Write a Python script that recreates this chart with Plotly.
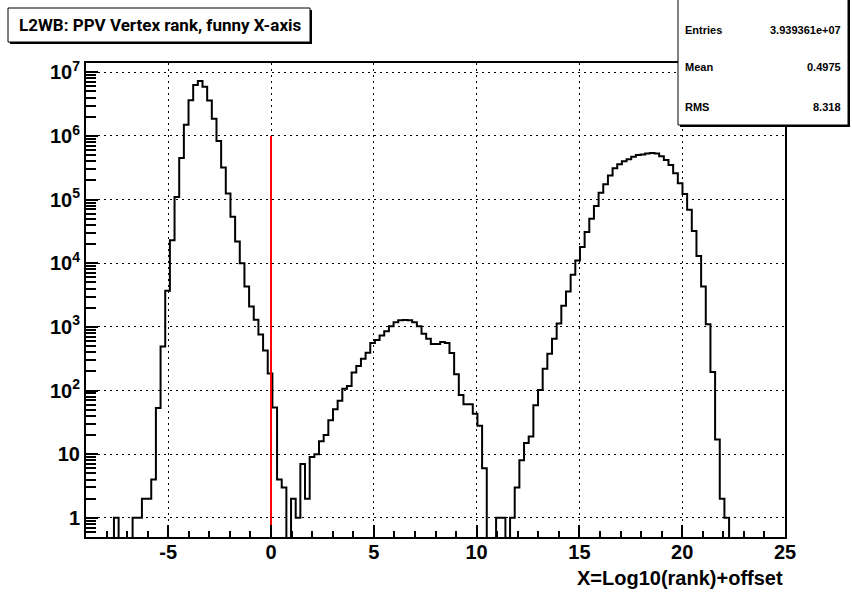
import numpy as np
import plotly.graph_objects as go

# ---------------------------------------------------------------------------
# histogram: 150 bins from -9 to 25, counts
x_lo, x_hi, n_bins = -9.0, 25.0, 150

counts = [
    0, 0, 0, 0, 0, 0, 1, 0, 0, 0,                                   # 0-9
    1, 1, 2, 2, 4, 53, 490, 3700, 23000, 110000,                    # 10-19
    450000, 1500000, 3650000, 6300000, 7300000, 5950000, 3600000,   # 20-26
    1860000, 830000, 320000,                                        # 27-29
    125000, 54000, 22000, 10000, 4300, 2100, 1300, 760, 425, 185,   # 30-39
    54, 4, 3, 0, 2, 1, 7, 2, 9, 10,                                 # 40-49
    16, 20, 34, 51, 69, 107, 118, 192, 243, 316,                    # 50-59
    392, 560, 620, 733, 855, 1020, 1180, 1270, 1280, 1270,          # 60-69
    1180, 1020, 780, 650, 540, 540, 580, 560, 390, 180,             # 70-79
    85, 61, 61, 43, 28, 6, 0, 0, 1, 1,                              # 80-89
    0, 1, 3, 8, 15, 19, 59, 102, 220, 378,                          # 90-99
    650, 1130, 2150, 3600, 6600, 11000, 18000, 31000, 50000, 79000, # 100-109
    128000, 175000, 240000, 310000, 360000, 400000, 430000, 470000, 500000, 510000,  # 110-119
    530000, 540000, 530000, 480000, 420000, 350000, 260000, 180000, 123000, 69000,   # 120-129
    32000, 13000, 4300, 1100, 195, 17, 2, 1, 0, 0,                  # 130-139
    0, 0, 0, 0, 0, 0, 0, 0, 0, 0,                                   # 140-149
]

x_major_ticks = [-5, 0, 5, 10, 15, 20, 25]
y_major_ticks = [1, 10, 1e2, 1e3, 1e4, 1e5, 1e6, 1e7]
y_tick_text = ["1", "10", "10<sup>2</sup>", "10<sup>3</sup>", "10<sup>4</sup>",
               "10<sup>5</sup>", "10<sup>6</sup>", "10<sup>7</sup>"]
y_min, y_max = 0.5, 1.4e7

red_line_x = 0
red_line_top = 1e6

title_text = "L2WB: PPV Vertex rank, funny X-axis"
xaxis_title = "X=Log10(rank)+offset"
stat_names = ["Entries", "Mean", "RMS"]
stat_values = ["3.939361e+07", "0.4975", "8.318"]

# ---------------------------------------------------------------------------
W, H = 852, 597
L, R, T, B = 86, 785, 63, 537   # plot frame in pixels


def pp(x, y):
    """pixel -> paper coordinates"""
    return (x - L) / (R - L), (B - y) / (B - T)


FONT = "Liberation Sans, Arial, sans-serif"
TITLE_FONT = "Roboto, Liberation Sans, Arial, sans-serif"

edges = np.linspace(x_lo, x_hi, n_bins + 1)
c = np.array(counts, dtype=float)
c_plot = np.where(c > 0, c, 1e-2)          # empty bins drop below the frame
y_step = np.append(c_plot, c_plot[-1])

fig = go.Figure()
fig.add_trace(go.Scatter(x=edges, y=y_step, mode="lines", line_shape="hv",
                         line=dict(color="black", width=2), hoverinfo="skip"))
fig.add_trace(go.Scatter(x=[red_line_x, red_line_x], y=[0.1, red_line_top], mode="lines",
                         line=dict(color="#ff0000", width=2), hoverinfo="skip"))

minor_y = [m * 10.0 ** d for d in range(-1, 8) for m in range(2, 10)
           if y_min < m * 10.0 ** d < y_max]

fig.update_layout(
    width=W, height=H,
    margin=dict(l=L, r=W - R, t=T, b=H - B),
    paper_bgcolor="white", plot_bgcolor="white",
    showlegend=False,
    xaxis=dict(range=[x_lo, x_hi], showline=True, linecolor="black", linewidth=2, mirror=True,
               ticks="inside", ticklen=12, tickwidth=1.5, tickcolor="black",
               tickvals=x_major_ticks, ticktext=[str(v) for v in x_major_ticks],
               tickfont=dict(family=FONT, size=20, color="black", weight="bold"),
               ticklabelstandoff=-4,
               showgrid=True, gridcolor="black", gridwidth=1.2, griddash="2px,4px",
               minor=dict(ticks="inside", ticklen=6, tickwidth=1.5, tickcolor="black", dtick=1, tick0=0),
               zeroline=False, layer="above traces"),
    yaxis=dict(type="log", range=[np.log10(y_min), np.log10(y_max)],
               showline=True, linecolor="black", linewidth=2, mirror=True,
               ticks="inside", ticklen=12, tickwidth=1.5, tickcolor="black",
               tickvals=y_major_ticks, ticktext=y_tick_text,
               tickfont=dict(family=FONT, size=20, color="black", weight="bold"),
               showgrid=True, gridcolor="black", gridwidth=1.2, griddash="2px,4px",
               minor=dict(ticks="inside", ticklen=10, tickwidth=1.5, tickcolor="black", tickvals=minor_y),
               zeroline=False, layer="above traces"),
)

shapes = []
annotations = []

# title box with shadow
x0, y0 = pp(8, 8)
x1, y1 = pp(310, 42)
sx0, sy0 = pp(10, 10)
sx1, sy1 = pp(312, 44)
shapes.append(dict(type="rect", xref="paper", yref="paper", x0=sx0, y0=sy0, x1=sx1, y1=sy1,
                   fillcolor="black", line=dict(width=0)))
shapes.append(dict(type="rect", xref="paper", yref="paper", x0=x0, y0=y0, x1=x1, y1=y1,
                   fillcolor="white", line=dict(color="black", width=1)))
tx, ty = pp(160, 25)
annotations.append(dict(x=tx, y=ty, xref="paper", yref="paper", text=title_text, showarrow=False,
                        xanchor="center", yanchor="middle",
                        font=dict(family=TITLE_FONT, size=17, color="black", weight="bold")))

# stats box with shadow
x0, y0 = pp(678, -2)
x1, y1 = pp(848, 125)
sx0, sy0 = pp(680, 0)
sx1, sy1 = pp(850, 127)
shapes.append(dict(type="rect", xref="paper", yref="paper", x0=sx0, y0=sy0, x1=sx1, y1=sy1,
                   fillcolor="black", line=dict(width=0)))
shapes.append(dict(type="rect", xref="paper", yref="paper", x0=x0, y0=y0, x1=x1, y1=y1,
                   fillcolor="white", line=dict(color="black", width=1)))
for name, val, yy in zip(stat_names, stat_values, [30, 67, 107]):
    lx, ly = pp(683, yy)
    rx, _ = pp(843, yy)
    annotations.append(dict(x=lx, y=ly, xref="paper", yref="paper", text=name, showarrow=False,
                            xanchor="left", yanchor="middle",
                            font=dict(family=FONT, size=11, color="black", weight="bold")))
    annotations.append(dict(x=rx, y=ly, xref="paper", yref="paper", text=val, showarrow=False,
                            xanchor="right", yanchor="middle",
                            font=dict(family=FONT, size=11, color="black", weight="bold")))

# x axis title, right aligned at the frame end
ax, ay = pp(785, 578)
annotations.append(dict(x=ax, y=ay, xref="paper", yref="paper", text=xaxis_title, showarrow=False,
                        xanchor="right", yanchor="middle",
                        font=dict(family=FONT, size=20, color="black", weight="bold")))

fig.update_layout(shapes=shapes, annotations=annotations)

# the page body has a default 8px margin; drop it so the figure sits at the window origin
fig.write_html("out.html", config={"displayModeBar": False},
               post_script="document.body.style.margin='0';")
